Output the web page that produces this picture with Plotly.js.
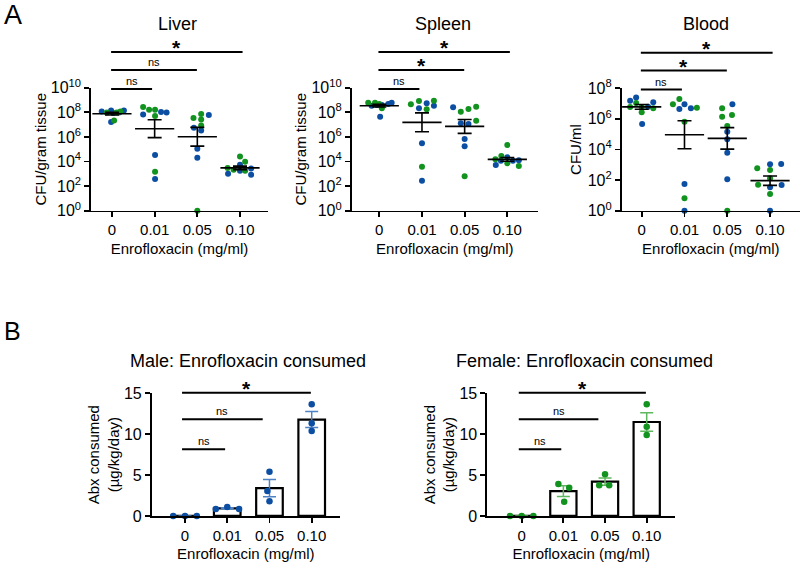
<!DOCTYPE html>
<html>
<head>
<meta charset="utf-8">
<script src="https://cdn.plot.ly/plotly-3.0.1.min.js"></script>
<style>
  body { margin: 0; background: #fff; }
  #chart { width: 800px; height: 562px; }
</style>
</head>
<body>
<div id="chart"></div>
<script>
// dose groups shared by every panel
const doses = ["0", "0.01", "0.05", "0.10"];
const BLUE = "#0c4ea2";   // male
const GREEN = "#12921f";  // female

// ---- panel A: log10 CFU per mouse, one list per dose ----
// jitter = horizontal offset of each dot, sex: m = blue, f = green
const liverLog = [
  [8.07, 7.99, 8.15, 7.94, 7.99, 7.99, 8.07, 8.15, 7.21, 7.34],
  [8.43, 8.21, 8.21, 7.83, 7.70, 8.02, 7.99, 4.53, 3.17, 2.58],
  [7.54, 7.86, 7.42, 7.78, 6.93, 6.75, 6.53, 5.04, 4.31, 0.00],
  [4.41, 3.98, 3.74, 3.47, 3.33, 3.25, 3.25, 3.44, 3.01, 2.93]
];
const liverJit = [
  [-0.24, -0.12, -0.02, 0.03, 0.11, 0.17, 0.20, 0.28, -0.02, 0.05],
  [-0.27, -0.13, 0.01, -0.27, 0.01, 0.15, 0.28, 0.01, 0.01, 0.01],
  [-0.09, 0.09, 0.09, 0.27, 0.09, -0.08, 0.09, 0, 0, 0],
  [0, 0.12, 0, -0.29, -0.15, 0, 0.12, 0.26, -0.28, 0.26]
];
const liverSex = ["mfmmfmfmmf", "fffmfmmmfm", "fffmfmmmmf", "ffmffmfmmm"];

const spleenLog = [
  [8.78, 8.54, 8.78, 8.59, 8.67, 8.59, 8.33, 8.67, 8.78, 7.64],
  [8.65, 8.92, 8.94, 8.33, 8.24, 8.73, 8.54, 5.48, 3.58, 2.44],
  [8.41, 8.05, 8.27, 8.46, 7.11, 7.05, 7.32, 5.83, 5.24, 2.80],
  [5.34, 4.45, 4.34, 4.18, 4.07, 3.85, 4.07, 4.10, 3.72, 3.63]
];
const spleenJit = [
  [-0.26, -0.18, -0.10, -0.05, 0, 0.06, 0.06, 0.21, 0.29, 0.02],
  [-0.26, -0.07, 0.28, -0.07, 0.11, 0.11, 0.28, 0, 0, 0],
  [-0.27, -0.09, 0.09, 0.27, -0.09, 0.09, 0.27, 0, 0, 0],
  [0, -0.14, 0, -0.28, -0.15, 0, 0.13, 0.27, -0.27, 0.27]
];
const spleenSex = ["fmfmfmfmmm", "fffmfmmmfm", "mfffmmfmmf", "ffmfmfmmmf"];

const bloodLog = [
  [7.19, 7.39, 6.78, 7.04, 6.78, 6.80, 6.69, 7.08, 6.43, 5.67],
  [6.95, 7.30, 6.65, 6.95, 6.69, 6.73, 5.82, 1.75, 0.81, 0.00],
  [6.95, 6.69, 6.25, 6.14, 5.54, 5.16, 4.67, 3.79, 2.05, 0.00],
  [2.77, 3.03, 3.05, 2.66, 1.70, 2.12, 1.53, 1.68, 1.09, 0.00]
];
const bloodJit = [
  [-0.27, -0.13, -0.27, -0.13, 0, 0.15, 0.27, 0.27, 0, 0.01],
  [-0.27, -0.12, -0.12, 0, 0.15, 0.29, 0, 0, 0, 0],
  [0.12, -0.12, 0.11, -0.12, 0, 0, 0, 0, 0, 0],
  [-0.30, 0, 0.26, 0, -0.28, 0, 0, 0.27, 0, 0]
];
const bloodSex = ["mmfffmfmfm", "ffmmmffmfm", "mffffmmmmf", "fmmfffmmfm"];

const logTickVals = [1, 1e2, 1e4, 1e6, 1e8, 1e10];
const logTickText = ["10<sup>0</sup>", "10<sup>2</sup>", "10<sup>4</sup>", "10<sup>6</sup>", "10<sup>8</sup>", "10<sup>10</sup>"];

// ---- panel B: antibiotic consumed (µg/kg/day), three cages per dose ----
const maleAbx = [[0, 0, 0], [0.86, 1.10, 0.86], [5.40, 3.05, 1.80], [13.65, 11.33, 10.39]];
const maleJit = [[-0.28, 0, 0.28], [-0.27, 0, 0.28], [0, -0.05, 0], [0, 0, 0]];
const femaleAbx = [[0, 0, 0], [3.91, 3.46, 1.75], [5.09, 3.75, 3.75], [13.65, 10.92, 9.90]];
const femaleJit = [[-0.28, 0, 0.28], [-0.12, 0.14, 0.02], [0, -0.14, 0.10], [0, 0, 0]];

// significance brackets: right end of each bar (all start at dose 0)
const bracketEndsA = [0.94, 1.99, 3.06];
const bracketEndsB = [0.95, 1.84, 2.98];
const liverSig = ["ns", "ns", "*"];
const spleenSig = ["ns", "*", "*"];
const bloodSig = ["ns", "*", "*"];
const maleSig = ["ns", "ns", "*"];
const femaleSig = ["ns", "ns", "*"];

const FONT = "Liberation Sans, Arial, Helvetica, sans-serif";

function meanSem(arr) {
  const m = arr.reduce((a, b) => a + b, 0) / arr.length;
  const sd = Math.sqrt(arr.reduce((a, b) => a + (b - m) * (b - m), 0) / (arr.length - 1));
  return [m, sd / Math.sqrt(arr.length)];
}

function cfuTraces(logs, jit, sex, ax) {
  const traces = [];
  ["m", "f"].forEach(s => {
    const x = [], y = [];
    logs.forEach((group, i) => group.forEach((v, j) => {
      if (sex[i][j] === s) {
        x.push(i + jit[i][j]);
        y.push(Math.pow(10, v));
      }
    }));
    traces.push({
      type: "scatter", mode: "markers", x: x, y: y,
      xaxis: "x" + ax, yaxis: "y" + ax,
      marker: { color: s === "m" ? BLUE : GREEN, size: 6 },
      cliponaxis: false, hoverinfo: "skip"
    });
  });
  // geometric mean with SEM (on log10 values)
  const stats = logs.map(meanSem);
  traces.push({
    type: "scatter", mode: "markers",
    x: [0, 1, 2, 3],
    y: stats.map(s => Math.pow(10, s[0])),
    xaxis: "x" + ax, yaxis: "y" + ax,
    marker: { symbol: "line-ew", size: 28, color: "black", line: { width: 1.6, color: "black" } },
    error_y: {
      type: "data", symmetric: false,
      array: stats.map(s => Math.pow(10, s[0] + s[1]) - Math.pow(10, s[0])),
      arrayminus: stats.map(s => Math.pow(10, s[0]) - Math.pow(10, s[0] - s[1])),
      width: 7, thickness: 1.6, color: "black"
    },
    cliponaxis: false, hoverinfo: "skip"
  });
  return traces;
}

function abxTraces(vals, jit, color, errColor, ax) {
  const stats = vals.map(meanSem);
  const x = [], y = [];
  vals.forEach((group, i) => group.forEach((v, j) => { x.push(i + jit[i][j]); y.push(v); }));
  return [
    {
      type: "bar", x: [0, 1, 2, 3], y: stats.map(s => s[0]), width: 0.63,
      xaxis: "x" + ax, yaxis: "y" + ax,
      marker: { color: "white", line: { color: "black", width: 2.2 } },
      error_y: { type: "data", array: stats.map(s => s[1]), width: 6.5, thickness: 1.5, color: errColor },
      hoverinfo: "skip"
    },
    {
      type: "scatter", mode: "markers", x: x, y: y,
      xaxis: "x" + ax, yaxis: "y" + ax,
      marker: { color: color, size: 6.5 },
      cliponaxis: false, hoverinfo: "skip"
    }
  ];
}

const traces = [].concat(
  cfuTraces(liverLog, liverJit, liverSex, ""),
  cfuTraces(spleenLog, spleenJit, spleenSex, "2"),
  cfuTraces(bloodLog, bloodJit, bloodSex, "3"),
  abxTraces(maleAbx, maleJit, BLUE, "#4f82c4", "4"),
  abxTraces(femaleAbx, femaleJit, GREEN, "#5db85d", "5")
);

function xAxis(domain, range, anchor) {
  return {
    domain: domain, range: range, anchor: anchor,
    tickmode: "array", tickvals: [0, 1, 2, 3], ticktext: doses,
    showline: true, linewidth: 1.8, linecolor: "black",
    ticks: "outside", ticklen: 5, tickwidth: 1.8, tickcolor: "black",
    showgrid: false, zeroline: false,
    tickfont: { family: FONT, size: 15, color: "black" },
    title: { text: "Enrofloxacin (mg/ml)", font: { family: FONT, size: 15, color: "black" }, standoff: 6 }
  };
}

function yAxis(domain, anchor, extra) {
  return Object.assign({
    domain: domain, anchor: anchor,
    showline: true, linewidth: 1.8, linecolor: "black",
    ticks: "outside", ticklen: 5, tickwidth: 1.8, tickcolor: "black",
    showgrid: false, zeroline: false,
    tickfont: { family: FONT, size: 16, color: "black" }
  }, extra);
}

const yDomA = [0.6251, 0.8439];
const yDomB = [0.0819, 0.3002];
const axisTitleFont = { family: FONT, size: 15, color: "black" };

const layout = {
  width: 800, height: 562, autosize: false,
  margin: { l: 0, r: 0, t: 0, b: 0 },
  paper_bgcolor: "white", plot_bgcolor: "white",
  showlegend: false,
  font: { family: FONT, color: "black" },
  xaxis: xAxis([0.1138, 0.335], [-0.49, 3.656], "y"),
  yaxis: yAxis(yDomA, "x", {
    type: "log", range: [0, 10], tickmode: "array", tickvals: logTickVals, ticktext: logTickText,
    title: { text: "CFU/gram tissue", font: axisTitleFont }
  }),
  xaxis2: xAxis([0.4396, 0.6725], [-0.647, 3.719], "y2"),
  yaxis2: yAxis(yDomA, "x2", {
    type: "log", range: [0, 10], tickmode: "array", tickvals: logTickVals, ticktext: logTickText,
    title: { text: "CFU/gram tissue", font: axisTitleFont }
  }),
  xaxis3: xAxis([0.7771, 1.0], [-0.468, 3.70], "y3"),
  yaxis3: yAxis([0.6251, 0.8429], "x3", {
    type: "log", range: [0, 8], tickmode: "array", tickvals: logTickVals.slice(0, 5), ticktext: logTickText.slice(0, 5),
    title: { text: "CFU/ml", font: axisTitleFont }
  }),
  xaxis4: xAxis([0.1896, 0.425], [-0.789, 3.67], "y4"),
  yaxis4: yAxis(yDomB, "x4", {
    range: [0, 15], tickvals: [0, 5, 10, 15],
    title: { text: "Abx consumed<br>(µg/kg/day)", font: axisTitleFont }
  }),
  xaxis5: xAxis([0.6091, 0.8438], [-0.826, 3.68], "y5"),
  yaxis5: yAxis(yDomB, "x5", {
    range: [0, 15], tickvals: [0, 5, 10, 15],
    title: { text: "Abx consumed<br>(µg/kg/day)", font: axisTitleFont }
  }),
  shapes: [],
  annotations: []
};

function paperText(text, px, py, size) {
  layout.annotations.push({
    xref: "paper", yref: "paper", x: px / 800, y: 1 - py / 562,
    text: text, showarrow: false, xanchor: "center", yanchor: "middle",
    font: { family: FONT, size: size, color: "black" }
  });
}

paperText("A", 13, 15, 27);
paperText("B", 12, 331, 25);
paperText("Liver", 177, 24, 18);
paperText("Spleen", 443, 24, 18);
paperText("Blood", 706, 24, 18);
paperText("Male: Enrofloxacin consumed", 248, 361, 18);
paperText("Female: Enrofloxacin consumed", 584, 361, 18);

function brackets(ax, ends, labels, start, levels) {
  ends.forEach((end, i) => {
    layout.shapes.push({
      type: "line", xref: "x" + ax, yref: "y" + ax + " domain",
      x0: start, x1: end, y0: levels[i], y1: levels[i],
      line: { color: "black", width: 2 }
    });
    const star = labels[i] === "*";
    layout.annotations.push({
      xref: "x" + ax, yref: "y" + ax + " domain",
      x: (start + end) / 2, y: levels[i],
      text: star ? "<b>*</b>" : "ns", showarrow: false,
      xanchor: "center", yanchor: "bottom", yshift: star ? -9 : 0,
      font: { family: FONT, size: star ? 21 : 11, color: "black" }
    });
  });
}

const levelsA = [0.99, 1.145, 1.29];
const levelsB = [0.544, 0.788, 1.005];
brackets("", bracketEndsA, liverSig, -0.02, levelsA);
brackets("2", bracketEndsA, spleenSig, -0.02, levelsA);
brackets("3", bracketEndsA, bloodSig, -0.02, levelsA);
brackets("4", bracketEndsB, maleSig, -0.07, levelsB);
brackets("5", bracketEndsB, femaleSig, -0.07, levelsB);

Plotly.newPlot("chart", traces, layout, { staticPlot: true });
</script>
</body>
</html>
